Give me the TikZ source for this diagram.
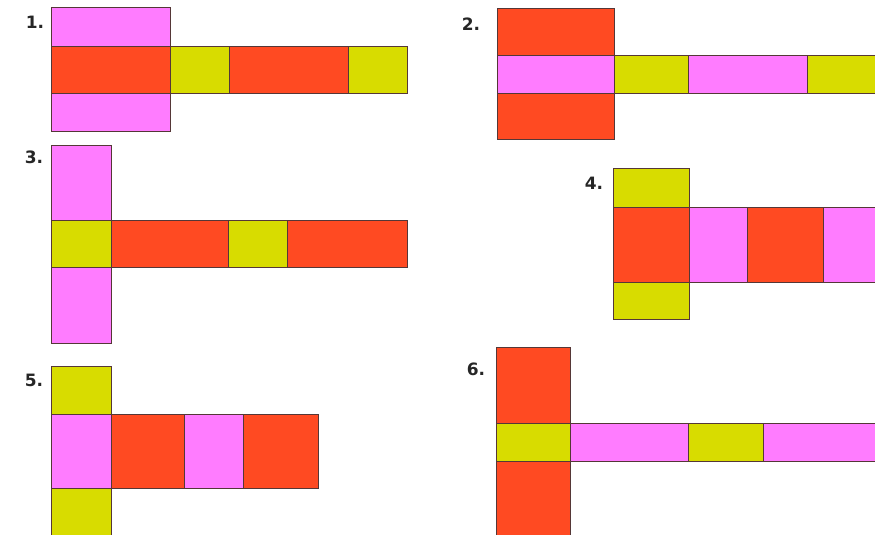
\documentclass[tikz,border=0pt]{standalone}
\usepackage{fontspec}
\setmainfont{DejaVu Sans}
\definecolor{pk}{RGB}{255,124,255}
\definecolor{rd}{RGB}{255,74,34}
\definecolor{yl}{RGB}{216,220,0}
\definecolor{edge}{RGB}{85,55,55}
\tikzset{
  face/.style={draw=edge, line width=0.9pt},
  red face/.style={face, fill=rd},
  pink face/.style={face, fill=pk},
  yellow face/.style={face, fill=yl},
  numlabel/.style={font=\bfseries\fontsize{17}{19}\selectfont, text=black!85, inner sep=0pt}
}
\begin{document}
\begin{tikzpicture}[x=1pt,y=-1pt]
\useasboundingbox (0,0) rectangle (875,535);
\clip (0,0) rectangle (875,535);
\fill[white] (0,0) rectangle (875,535);
% Net 1
\path[pink face]   (51,7)   rectangle (170,46);
\path[red face]    (51,46)  rectangle (170,93);
\path[pink face]   (51,93)  rectangle (170,131);
\path[yellow face] (170,46) rectangle (229,93);
\path[red face]    (229,46) rectangle (348,93);
\path[yellow face] (348,46) rectangle (407,93);
\node[numlabel] (l1) at (35,22) {1.};
% Net 2
\path[red face]    (497,8)  rectangle (614,55);
\path[pink face]   (497,55) rectangle (614,93);
\path[red face]    (497,93) rectangle (614,139);
\path[yellow face] (614,55) rectangle (688,93);
\path[pink face]   (688,55) rectangle (807,93);
\path[yellow face] (807,55) rectangle (881,93);
\node[numlabel] (l2) at (471,24) {2.};
% Net 3
\path[pink face]   (51,145)  rectangle (111,220);
\path[yellow face] (51,220)  rectangle (111,267);
\path[pink face]   (51,267)  rectangle (111,343);
\path[red face]    (111,220) rectangle (228,267);
\path[yellow face] (228,220) rectangle (287,267);
\path[red face]    (287,220) rectangle (407,267);
\node[numlabel] (l3) at (34,157) {3.};
% Net 4
\path[yellow face] (613,168) rectangle (689,207);
\path[red face]    (613,207) rectangle (689,282);
\path[yellow face] (613,282) rectangle (689,319);
\path[pink face]   (689,207) rectangle (747,282);
\path[red face]    (747,207) rectangle (823,282);
\path[pink face]   (823,207) rectangle (881,282);
\node[numlabel] (l4) at (594,183) {4.};
% Net 5
\path[yellow face] (51,366)  rectangle (111,414);
\path[pink face]   (51,414)  rectangle (111,488);
\path[yellow face] (51,488)  rectangle (111,545);
\path[red face]    (111,414) rectangle (184,488);
\path[pink face]   (184,414) rectangle (243,488);
\path[red face]    (243,414) rectangle (318,488);
\node[numlabel] (l5) at (34,380) {5.};
% Net 6
\path[red face]    (496,347) rectangle (570,423);
\path[yellow face] (496,423) rectangle (570,461);
\path[red face]    (496,461) rectangle (570,545);
\path[pink face]   (570,423) rectangle (688,461);
\path[yellow face] (688,423) rectangle (763,461);
\path[pink face]   (763,423) rectangle (881,461);
\node[numlabel] (l6) at (476,369) {6.};
\end{tikzpicture}
\end{document}
